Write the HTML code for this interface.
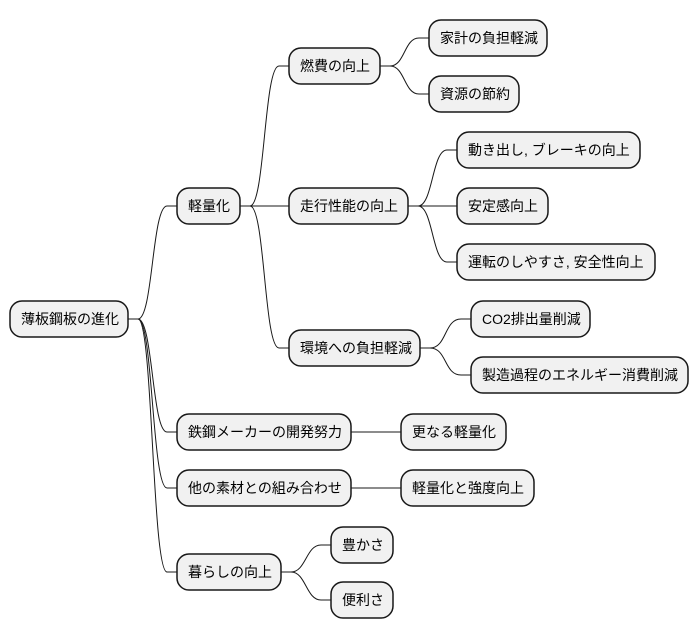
<!DOCTYPE html>
<html><head><meta charset="utf-8"><style>
html,body{margin:0;padding:0;background:#fff;}
svg{display:block;}
text{font-family:"Liberation Sans","Noto Sans CJK JP",sans-serif;font-size:14px;fill:#000;}
rect{fill:#f1f1f1;stroke:#181818;stroke-width:1.5;}
path{fill:none;stroke:#181818;stroke-width:1;}
</style></head><body>
<svg width="698" height="640" viewBox="0 0 698 640" xmlns="http://www.w3.org/2000/svg">
<g>
<path d="M128,319 L138,319 C153,319 152,206 167,206 L177,206"/>
<path d="M128,319 L138,319 C153,319 152,432 167,432 L177,432"/>
<path d="M128,319 L138,319 C153,319 152,488 167,488 L177,488"/>
<path d="M128,319 L138,319 C153,319 152,572 167,572 L177,572"/>
<path d="M240,206 L250,206 C265,206 264,66 279,66 L289,66"/>
<path d="M240,206 L289,206"/>
<path d="M240,206 L250,206 C265,206 264,348 279,348 L289,348"/>
<path d="M380,66 L390,66 C405,66 404,38 419,38 L429,38"/>
<path d="M380,66 L390,66 C405,66 404,94 419,94 L429,94"/>
<path d="M408,206 L418,206 C433,206 432,150 447,150 L457,150"/>
<path d="M408,206 L457,206"/>
<path d="M408,206 L418,206 C433,206 432,262 447,262 L457,262"/>
<path d="M420,348 L430,348 C447,348 444,319 461,319 L471,319"/>
<path d="M420,348 L430,348 C447,348 444,375 461,375 L471,375"/>
<path d="M351,432 L401,432"/>
<path d="M351,488 L401,488"/>
<path d="M281,572 L291,572 C306,572 306,545 321,545 L331,545"/>
<path d="M281,572 L291,572 C306,572 306,600 321,600 L331,600"/>
</g>
<g>
<rect x="10" y="301" width="118" height="36" rx="12"/><text x="21" y="324">薄板鋼板の進化</text>
<rect x="177" y="188" width="63" height="36" rx="12"/><text x="188" y="211">軽量化</text>
<rect x="289" y="48" width="91" height="36" rx="12"/><text x="300" y="71">燃費の向上</text>
<rect x="429" y="20" width="118" height="36" rx="12"/><text x="440" y="43">家計の負担軽減</text>
<rect x="429" y="76" width="90" height="36" rx="12"/><text x="440" y="99">資源の節約</text>
<rect x="289" y="188" width="119" height="36" rx="12"/><text x="300" y="211">走行性能の向上</text>
<rect x="457" y="132" width="183" height="36" rx="12"/><text x="468" y="155">動き出し, ブレーキの向上</text>
<rect x="457" y="188" width="91" height="36" rx="12"/><text x="468" y="211">安定感向上</text>
<rect x="457" y="244" width="198" height="36" rx="12"/><text x="468" y="267">運転のしやすさ, 安全性向上</text>
<rect x="289" y="330" width="131" height="36" rx="12"/><text x="300" y="353">環境への負担軽減</text>
<rect x="471" y="301" width="119" height="36" rx="12"/><text x="482" y="324">CO2排出量削減</text>
<rect x="471" y="357" width="217" height="36" rx="12"/><text x="482" y="380">製造過程のエネルギー消費削減</text>
<rect x="177" y="414" width="174" height="36" rx="12"/><text x="188" y="437">鉄鋼メーカーの開発努力</text>
<rect x="401" y="414" width="105" height="36" rx="12"/><text x="412" y="437">更なる軽量化</text>
<rect x="177" y="470" width="174" height="36" rx="12"/><text x="188" y="493">他の素材との組み合わせ</text>
<rect x="401" y="470" width="133" height="36" rx="12"/><text x="412" y="493">軽量化と強度向上</text>
<rect x="177" y="554" width="104" height="36" rx="12"/><text x="188" y="577">暮らしの向上</text>
<rect x="331" y="527" width="62" height="36" rx="12"/><text x="342" y="550">豊かさ</text>
<rect x="331" y="582" width="62" height="36" rx="12"/><text x="342" y="605">便利さ</text>
</g>
</svg>
</body></html>
